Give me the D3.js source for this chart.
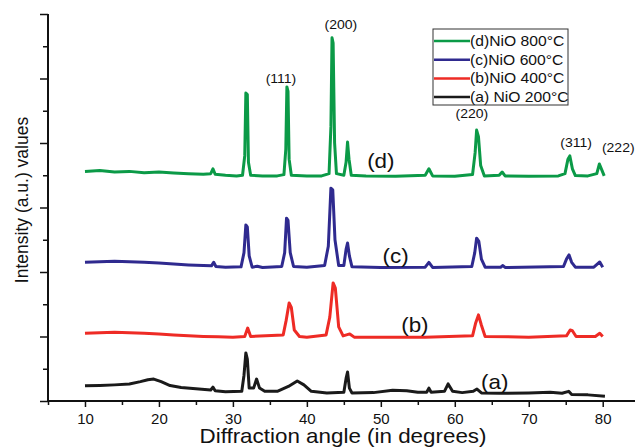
<!DOCTYPE html>
<html>
<head>
<meta charset="utf-8">
<script src="https://cdn.jsdelivr.net/npm/d3@7"></script>
<style>
  body { margin: 0; background: #fff; }
  svg { font-family: "Liberation Sans", Arial, sans-serif; }
  .axis text { font-size: 15px; fill: #111; }
  .axis line { stroke: #111; stroke-width: 1.5; }
  .axis .domain { display: none; }
</style>
</head>
<body>
<div id="chart"></div>
<script>
// Data: [2-theta (deg), intensity (a.u.)]
const seriesA = [[10,0.47],[12,0.48],[14,0.5],[16,0.53],[17.5,0.6],[18.5,0.66],[19.3,0.68],[20.3,0.6],[21.5,0.48],[23,0.42],[25,0.38],[27,0.34],[27.3,0.43],[27.6,0.32],[29,0.29],[31.2,0.3],[31.5,0.8],[31.75,1.49],[31.95,1.3],[32.2,0.4],[32.8,0.4],[33.2,0.68],[33.6,0.4],[34.3,0.3],[36,0.3],[37.5,0.45],[38.7,0.62],[39.6,0.5],[40.6,0.3],[42.7,0.25],[45.0,0.27],[45.3,0.7],[45.5,0.9],[45.75,0.4],[46.1,0.25],[49,0.26],[51.6,0.33],[53.5,0.32],[55,0.27],[56.2,0.27],[56.5,0.4],[56.8,0.27],[58.6,0.3],[59.1,0.53],[59.7,0.3],[61,0.26],[62.5,0.3],[63.0,0.37],[63.6,0.25],[66,0.24],[70,0.25],[72.9,0.27],[74.5,0.24],[75.4,0.3],[75.8,0.2],[78,0.19],[80.3,0.15]];

const seriesB = [[10,2.1],[12,2.12],[14,2.13],[16,2.12],[18,2.1],[20,2.08],[22,2.05],[24,2.02],[26,2.0],[28,1.99],[30,1.98],[31.6,2.0],[32.0,2.26],[32.4,2.0],[36.8,2.05],[37.2,2.5],[37.6,3.04],[37.9,2.9],[38.3,2.2],[39,2.0],[40,1.98],[42.6,2.05],[43.1,2.6],[43.55,3.66],[43.85,3.5],[44.3,2.3],[44.9,2.02],[45.8,2.08],[46.4,1.98],[50,1.98],[56,1.98],[62.4,2.02],[62.8,2.4],[63.2,2.67],[63.6,2.35],[64.1,2.0],[70,1.98],[75.1,2.02],[75.6,2.2],[75.9,2.18],[76.4,2.0],[79.0,2.0],[79.6,2.1],[80,2.0]];

const seriesC = [[10,4.3],[12,4.32],[14,4.33],[16,4.32],[18,4.3],[20,4.28],[22,4.25],[24,4.22],[26,4.2],[27.1,4.19],[27.4,4.3],[27.7,4.17],[29,4.15],[31.1,4.16],[31.5,4.6],[31.75,5.46],[31.95,5.4],[32.2,4.5],[32.6,4.15],[33.3,4.18],[34,4.14],[36.6,4.17],[37.0,4.6],[37.25,5.67],[37.45,5.6],[37.75,4.6],[38.2,4.17],[40,4.15],[42.4,4.2],[42.9,4.8],[43.25,6.6],[43.5,6.55],[43.8,5.0],[44.3,4.2],[45.0,4.2],[45.3,4.7],[45.5,4.9],[45.75,4.5],[46.1,4.16],[50,4.14],[56,4.15],[56.5,4.3],[57,4.14],[62.3,4.17],[62.7,4.6],[62.95,5.05],[63.25,4.95],[63.6,4.4],[64.1,4.15],[66.2,4.15],[66.5,4.2],[66.8,4.14],[74.7,4.17],[75.1,4.4],[75.45,4.53],[75.8,4.3],[76.3,4.15],[78.8,4.15],[79.3,4.25],[79.6,4.31],[80.0,4.15]];

const seriesD = [[10,7.12],[12,7.15],[14,7.1],[16,7.12],[18,7.08],[20,7.1],[22,7.07],[24,7.05],[26,7.03],[27,7.05],[27.3,7.2],[27.6,7.03],[29,7.0],[30.5,6.98],[31.3,7.0],[31.6,7.6],[31.75,9.55],[31.95,9.5],[32.1,7.4],[32.4,7.0],[34,6.98],[36,6.98],[36.9,7.02],[37.15,7.8],[37.3,9.74],[37.45,9.6],[37.6,7.5],[37.9,7.0],[40,6.98],[42,6.98],[43.0,7.05],[43.25,8.5],[43.4,11.26],[43.55,11.1],[43.75,8.0],[44.0,7.05],[45.0,7.0],[45.3,7.4],[45.5,8.03],[45.7,7.5],[46.0,7.0],[48,6.98],[52,6.97],[56,7.0],[56.5,7.2],[57,6.98],[60,6.97],[62.4,7.02],[62.75,7.7],[62.95,8.4],[63.2,8.2],[63.5,7.3],[64,6.98],[66,7.0],[66.4,7.1],[66.8,6.98],[70,6.97],[74,6.98],[74.9,7.05],[75.3,7.5],[75.55,7.6],[75.9,7.2],[76.3,6.99],[78,6.98],[79.2,7.05],[79.55,7.35],[79.9,7.15],[80.2,6.98]];

const legendLabels = ["(d)NiO 800\u00B0C", "(c)NiO 600\u00B0C", "(b)NiO 400\u00B0C", "(a) NiO 200\u00B0C"];
const curveLabels = ["(d)", "(c)", "(b)", "(a)"];
const curveLabelPos = [[50.0, 7.22], [52.0, 4.28], [54.6, 2.14], [65.4, 0.37]];
const planes = ["(111)", "(200)", "(220)", "(311)", "(222)"];
const planePos = [[36.5, 9.86], [44.6, 11.53], [62.3, 8.78], [76.4, 7.88], [82.1, 7.72]];
const xMajor = [10, 20, 30, 40, 50, 60, 70, 80];
const xMinor = [5, 15, 25, 35, 45, 55, 65, 75];
const yMajor = [0, 2, 4, 6, 8, 10, 12];
const yMinor = [1, 3, 5, 7, 9, 11];

const colours = ["#0b9a47", "#2f2a8f", "#ee2b25", "#1a1a1a"];
const series = [seriesD, seriesC, seriesB, seriesA];

const W = 635, H = 447;
const stretch = 1.12; // the original picture is slightly wider than tall
const svg = d3.select("#chart").append("svg")
    .attr("width", W)
    .attr("height", H);

const x = d3.scaleLinear().domain([5, 84.5]).range([48, 636]);
const y = d3.scaleLinear().domain([0, 12]).range([401, 14]);

// Axes
svg.append("g")
    .attr("class", "axis")
    .attr("transform", "translate(0,401)")
    .call(d3.axisBottom(x).tickValues(xMajor).tickSize(6).tickPadding(6));
svg.append("g")
    .attr("class", "axis")
    .attr("transform", "translate(0,401)")
    .call(d3.axisBottom(x).tickValues(xMinor).tickSize(4).tickFormat(""));
svg.append("g")
    .attr("class", "axis")
    .attr("transform", "translate(48,0)")
    .call(d3.axisLeft(y).tickValues(yMajor).tickSize(8).tickFormat(""));
svg.append("g")
    .attr("class", "axis")
    .attr("transform", "translate(48,0)")
    .call(d3.axisLeft(y).tickValues(yMinor).tickSize(5).tickFormat(""));

svg.append("line")
    .attr("x1", 48).attr("x2", 48)
    .attr("y1", y(12)).attr("y2", 401)
    .attr("stroke", "#111").attr("stroke-width", 2);
svg.append("line")
    .attr("x1", 47).attr("x2", W)
    .attr("y1", 401).attr("y2", 401)
    .attr("stroke", "#111").attr("stroke-width", 2);

// Patterns
const line = d3.line()
    .x(d => x(d[0]))
    .y(d => y(d[1]));

svg.append("g")
    .selectAll("path")
    .data(series)
    .join("path")
        .attr("d", d => line(d))
        .attr("fill", "none")
        .attr("stroke", (d, i) => colours[i])
        .attr("stroke-width", 3)
        .attr("stroke-linejoin", "round");

// Curve labels
svg.append("g")
    .selectAll("text")
    .data(curveLabels)
    .join("text")
        .attr("transform", (d, i) => `translate(${x(curveLabelPos[i][0])},${y(curveLabelPos[i][1])}) scale(${stretch},1)`)
        .attr("text-anchor", "middle")
        .attr("font-size", 20)
        .attr("fill", "#111")
        .text(d => d);

// Miller indices
svg.append("g")
    .selectAll("text")
    .data(planes)
    .join("text")
        .attr("transform", (d, i) => `translate(${x(planePos[i][0])},${y(planePos[i][1])}) scale(${stretch},1)`)
        .attr("text-anchor", "middle")
        .attr("font-size", 12.5)
        .attr("fill", "#111")
        .text(d => d);

// Legend
const lg = svg.append("g").attr("transform", "translate(433,29)");
lg.append("rect")
    .attr("width", 135).attr("height", 76)
    .attr("fill", "#fff")
    .attr("stroke", "#333").attr("stroke-width", 1);
const items = lg.selectAll("g.item")
    .data(legendLabels)
    .join("g")
        .attr("class", "item")
        .attr("transform", (d, i) => `translate(0,${12 + i * 18.7})`);
items.append("line")
    .attr("x1", 1).attr("x2", 37)
    .attr("stroke", (d, i) => colours[i])
    .attr("stroke-width", 2.5);
items.append("text")
    .attr("transform", `translate(37,5) scale(${stretch},1)`)
    .attr("font-size", 14)
    .attr("fill", "#111")
    .text(d => d);

// Axis titles
svg.append("text")
    .attr("transform", `translate(343,443) scale(${stretch},1)`)
    .attr("text-anchor", "middle")
    .attr("font-size", 20)
    .attr("fill", "#111")
    .text("Diffraction angle (in degrees)");
svg.append("text")
    .attr("transform", "translate(28,200) rotate(-90)")
    .attr("text-anchor", "middle")
    .attr("font-size", 17.5)
    .attr("fill", "#111")
    .text("Intensity (a.u.) values");
</script>
</body>
</html>
